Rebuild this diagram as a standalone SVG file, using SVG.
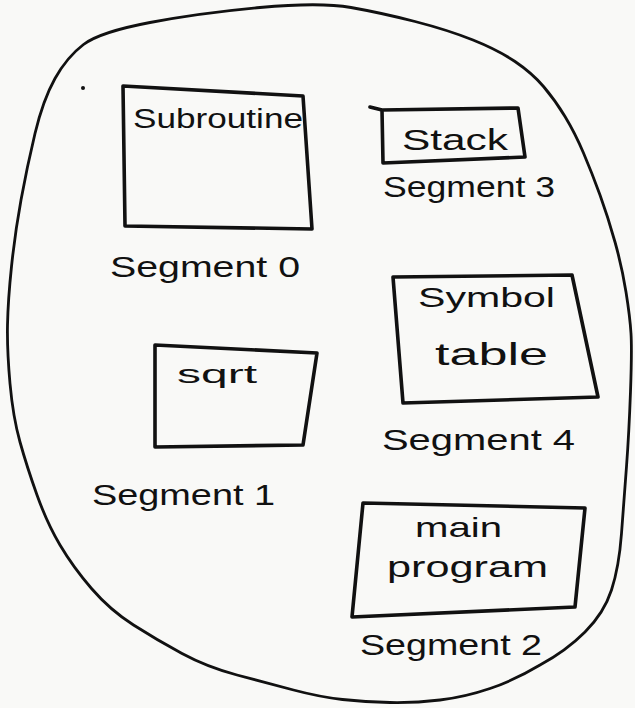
<svg xmlns="http://www.w3.org/2000/svg" width="635" height="708" viewBox="0 0 635 708">
  <style>
    .outline { fill: none; stroke: #111; stroke-width: 2.8; stroke-linejoin: round; stroke-linecap: round; }
    .box { fill: none; stroke: #111; stroke-width: 3.6; stroke-linejoin: round; stroke-linecap: round; }
    .name { font-family: "Liberation Sans", "DejaVu Sans", sans-serif; fill: #111; }
    .seg { font-family: "Liberation Sans", "DejaVu Sans", sans-serif; fill: #111; font-size: 30px; }
  </style>

  <!-- paper -->
  <rect x="0" y="0" width="635" height="708" fill="#f9f9f7"/>

  <!-- address space outline -->
  <path class="outline" d="M 351,7.5 Q 382,13 415,21.5 Q 448,30 473,40 Q 498,50 515,61.5 Q 532,73 543.5,86.5 Q 555,100 565,116.5 Q 575,133 583.5,153 Q 592,173 600,195 Q 608,217 615,242 Q 622,267 626,292 Q 630,317 631,333.5 Q 632,350 630.5,391.5 Q 629,433 626.5,466.5 Q 624,500 621.5,533.5 Q 619,567 611.5,590 Q 604,613 585,632 Q 566,651 540,665 Q 515,680 490,688.5 Q 465,697 440,700 Q 415,703 390,702.5 Q 365,702 342.5,699.5 Q 320,697 293.5,690 Q 267,683 237,675 Q 207,667 182,653.5 Q 157,640 133.5,625 Q 110,610 91.5,588.5 Q 73,567 60,545 Q 47,523 37,495 Q 27,467 20,442 Q 13,417 10,383.5 Q 7,350 7.5,325 Q 8,300 11.5,266.5 Q 15,233 21,200 Q 27,167 35,133.5 Q 43,100 55,78.5 Q 67,57 83.5,44.5 Q 100,32 150,22.5 Q 200,13 260,7.5 Q 320,2 351,7.5 Z"/>

  <!-- stray pen mark -->
  <circle cx="83" cy="88" r="2" fill="#111"/>

  <g id="segment-0">
    <path class="box" d="M 123,86 L 303,96 L 312,229 L 125,226 Z"/>
    <text class="name" x="133" y="128" font-size="27" textLength="170" lengthAdjust="spacingAndGlyphs">Subroutine</text>
    <text class="seg" x="110" y="277" textLength="190" lengthAdjust="spacingAndGlyphs">Segment 0</text>
  </g>

  <g id="segment-3">
    <path class="box" d="M 370,107 L 382,110 L 518,108 L 525,157 L 383,163 L 382,110"/>
    <text class="name" x="402" y="150" font-size="30" textLength="106" lengthAdjust="spacingAndGlyphs">Stack</text>
    <text class="seg" x="383" y="197" font-size="28" textLength="172" lengthAdjust="spacingAndGlyphs">Segment 3</text>
  </g>

  <g id="segment-4">
    <path class="box" d="M 393,277 L 572,275 L 598,397 L 403,403 Z"/>
    <text class="name" x="418" y="307" font-size="28" textLength="137" lengthAdjust="spacingAndGlyphs">Symbol</text>
    <text class="name" x="435" y="365" font-size="32" textLength="113" lengthAdjust="spacingAndGlyphs">table</text>
    <text class="seg" x="382" y="450" textLength="193" lengthAdjust="spacingAndGlyphs">Segment 4</text>
  </g>

  <g id="segment-1">
    <path class="box" d="M 155,345 L 317,353 L 303,445 L 155,447 Z"/>
    <text class="name" x="177" y="383" font-size="26" textLength="80" lengthAdjust="spacingAndGlyphs">sqrt</text>
    <text class="seg" x="92" y="505" textLength="183" lengthAdjust="spacingAndGlyphs">Segment 1</text>
  </g>

  <g id="segment-2">
    <path class="box" d="M 363,503 L 585,508 L 575,607 L 352,617 Z"/>
    <text class="name" x="415" y="537" font-size="28" textLength="87" lengthAdjust="spacingAndGlyphs">main</text>
    <text class="name" x="387" y="577" font-size="30" textLength="161" lengthAdjust="spacingAndGlyphs">program</text>
    <text class="seg" x="360" y="655" textLength="182" lengthAdjust="spacingAndGlyphs">Segment 2</text>
  </g>
</svg>
